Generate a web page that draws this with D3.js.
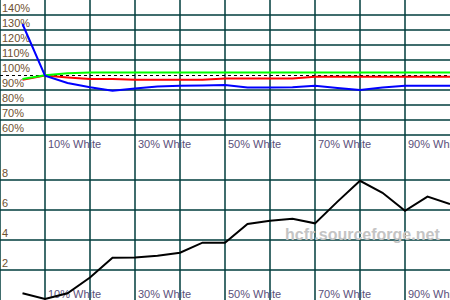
<!DOCTYPE html>
<html>
<head>
<meta charset="utf-8">
<script src="https://d3js.org/d3.v7.min.js"></script>
<style>
 body { margin:0; background:#fff; }
 svg { display:block; }
 .lbl { font: 11px "Liberation Sans", Arial, sans-serif; }
 .ylab { fill:#6e5030; }
 .xlab { fill:#5a4f7a; }
 .grid line { stroke:#003c3c; stroke-width:1.5; }
 .grid path { display:none; }
 .mark { fill:#c4c4c4; font: bold 16px "Liberation Sans", Arial, sans-serif; }
</style>
</head>
<body>
<div id="chart"></div>
<script>
// grayscale steps (% white)
var levels = [5,10,15,20,25,30,35,40,45,50,55,60,65,70,75,80,85,90,95,100];
// RGB levels (%)
var redLevel   = [96.8,99.6,98.4,97.3,97.3,96.9,96.9,96.9,96.9,97.6,97.6,97.6,97.6,98.9,98.9,98.9,98.9,98.9,98.9,98.9];
var greenLevel = [97.3,99.8,101.2,101.6,101.6,101.6,101.6,101.6,101.6,101.6,101.6,101.6,101.6,101.6,101.6,101.6,101.6,101.6,101.6,101.6];
var blueLevel  = [134,99.6,94.7,91.8,89.5,91.0,92.4,92.9,93.0,93.3,91.6,91.6,91.8,92.9,91.4,90.0,91.6,92.9,92.9,92.9];
// delta E
var deltaE = [0.45,0.07,0.45,1.5,2.82,2.84,2.95,3.15,3.82,3.82,5.07,5.29,5.42,5.11,6.56,7.95,7.15,5.95,6.89,6.4];

var topTicks = [140,130,120,110,100,90,80,70,60];
var bottomTicks = [8,6,4,2];
var gridSteps = [0,10,20,30,40,50,60,70,80,90];
var xLabelPos = [10,30,50,70,90];
var xLabels = ["10% White","30% White","50% White","70% White","90% White"];

var width = 450, height = 300;

var x = d3.scaleLinear().domain([0,100]).range([0,width]);
var yTop = d3.scaleLinear().domain([60,150]).range([135,0]);
var yBot = d3.scaleLinear().domain([0,10]).range([300,150]);

var svg = d3.select("#chart").append("svg")
  .attr("width", width)
  .attr("height", height);

// vertical grid, full height
svg.append("g")
  .attr("class","grid")
  .attr("transform","translate(0,"+height+")")
  .call(d3.axisBottom(x).tickValues(gridSteps).tickSize(-height).tickFormat("").offset(0));

// horizontal grid, top panel (100% drawn dashed)
svg.append("g")
  .attr("class","grid")
  .call(d3.axisLeft(yTop).tickValues(topTicks.filter(function(d){ return d != 100; })).tickSize(-width).tickFormat("").offset(0));

// horizontal grid, bottom panel
svg.append("g")
  .attr("class","grid")
  .call(d3.axisLeft(yBot).tickValues(bottomTicks).tickSize(-width).tickFormat("").offset(0));

// reference 100% line
svg.append("line")
  .attr("x1",0).attr("x2",width)
  .attr("y1",yTop(100)+0.5).attr("y2",yTop(100)+0.5)
  .attr("stroke","#000")
  .attr("stroke-width",1)
  .attr("stroke-dasharray","3,3");

// y labels
svg.selectAll(".ytop")
  .data(topTicks)
  .enter().append("text")
  .attr("class","lbl ylab ytop")
  .attr("x",2)
  .attr("y",function(d){ return yTop(d)-3; })
  .text(function(d){ return d+"%"; });

svg.selectAll(".ybot")
  .data(bottomTicks)
  .enter().append("text")
  .attr("class","lbl ylab ybot")
  .attr("x",2)
  .attr("y",function(d){ return yBot(d)-3; })
  .text(function(d){ return d; });

// x labels, both panels
[148, 298].forEach(function(base){
  svg.selectAll(null)
    .data(xLabelPos)
    .enter().append("text")
    .attr("class","lbl xlab")
    .attr("x",function(d){ return x(d)+3; })
    .attr("y",base)
    .text(function(d,i){ return xLabels[i]; });
});

// watermark
svg.append("text")
  .attr("class","mark")
  .attr("x",285)
  .attr("y",240)
  .text("hcfr.sourceforge.net");

// top panel lines
var series = [
  {values:redLevel, color:"#ff0000"},
  {values:greenLevel, color:"#00ff00"},
  {values:blueLevel, color:"#0000ff"}
];
series.forEach(function(s){
  var line = d3.line()
    .x(function(d,i){ return x(levels[i]); })
    .y(function(d){ return yTop(d); });
  svg.append("path")
    .datum(s.values)
    .attr("fill","none")
    .attr("stroke",s.color)
    .attr("stroke-width",2)
    .attr("d",line);
});

// bottom panel line
var deLine = d3.line()
  .x(function(d,i){ return x(levels[i]); })
  .y(function(d){ return yBot(d); });
svg.append("path")
  .datum(deltaE)
  .attr("fill","none")
  .attr("stroke","#000")
  .attr("stroke-width",2)
  .attr("d",deLine);
</script>
</body>
</html>
